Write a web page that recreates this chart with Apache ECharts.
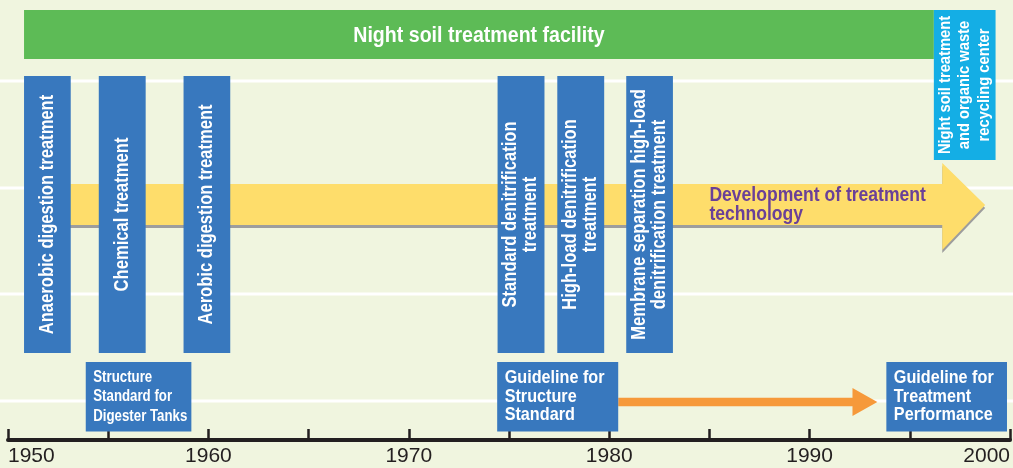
<!DOCTYPE html>
<html>
<head>
<meta charset="utf-8">
<script src="https://cdn.jsdelivr.net/npm/echarts@6/dist/echarts.min.js"></script>
<style>
html,body{margin:0;padding:0;background:#f0f5df;}
#chart{width:1013px;height:468px;}
</style>
</head>
<body>
<div id="chart"></div>
<script>
// ---- data (years on x, abstract height units on y) ----
const axisMin = 1950;
const axisMax = 2000;
const tickStep = 5;

const gridLineLevels = [3.9, 14.6, 25.2, 35.9];

const facilityLabel = ['Night soil treatment facility'];
const facilityStart = [1950.8];
const facilityEnd = [1996.2];
const facilityLow = [38.1];
const facilityHigh = [43.0];

const centerLabel = ['Night soil treatment\nand organic waste\nrecycling center'];
const centerStart = [1996.2];
const centerEnd = [1999.28];
const centerLow = [28.0];
const centerHigh = [43.0];

const techLabels = [
  'Anaerobic digestion treatment',
  'Chemical treatment',
  'Aerobic digestion treatment',
  'Standard denitrification\ntreatment',
  'High-load denitrification\ntreatment',
  'Membrane separation high-load\ndenitrification treatment'
];
const techStart = [1950.8, 1954.53, 1958.76, 1974.43, 1977.41, 1980.85];
const techEnd = [1953.13, 1956.87, 1961.09, 1976.77, 1979.75, 1983.18];
const techLow = [8.7, 8.7, 8.7, 8.7, 8.7, 8.7];
const techHigh = [36.4, 36.4, 36.4, 36.4, 36.4, 36.4];

const stdLabels = [
  'Structure\nStandard for\nDigester Tanks',
  'Guideline for\nStructure\nStandard',
  'Guideline for\nTreatment\nPerformance'
];
const stdStart = [1953.88, 1974.41, 1993.83];
const stdEnd = [1959.15, 1980.45, 1999.85];
const stdLow = [0.85, 0.85, 0.85];
const stdHigh = [7.8, 7.8, 7.8];

// yellow development arrow: [start, headStart, tip, shaftLow, shaftHigh, headLow, headHigh, mid]
const devArrow = [1952, 1996.62, 1998.76, 21.5, 25.6, 19.0, 27.7, 23.5];
const devLabel = ['Development of treatment\ntechnology'];
const devLabelAt = [1985, 23.5];

// orange arrow: [start, headStart, tip, mid, shaftHalf, headHalf]
const stdArrow = [1980.45, 1992.14, 1993.38, 3.8, 0.42, 1.4];

// ---- styles ----
const C = {
  bg: '#f0f5df', green: '#5dbb56', blue: '#3878be', cyan: '#14aee5',
  yellow: '#fedd6b', orange: '#f6993a', purple: '#6a4098', axis: '#231f20'
};
const FONT = '"Liberation Sans", Arial, sans-serif';
const stdTextStyle = [
  { fontSize: 17, scaleX: 0.78, lineHeight: 19.5 },
  { fontSize: 18.5, scaleX: 0.875, lineHeight: 18.5 },
  { fontSize: 18.5, scaleX: 0.875, lineHeight: 18.5 }
];

function rectOf(api, x0, x1, y0, y1) {
  const a = api.coord([x0, y1]);
  const b = api.coord([x1, y0]);
  return { x: a[0], y: a[1], width: b[0] - a[0], height: b[1] - a[1] };
}

const chart = echarts.init(document.getElementById('chart'), null, { renderer: 'canvas' });

const option = {
  backgroundColor: C.bg,
  animation: false,
  grid: { left: 8, width: 1006, top: 0, bottom: 28 },
  xAxis: {
    type: 'value', min: axisMin, max: axisMax, interval: tickStep,
    axisLine: { show: true, lineStyle: { color: C.axis, width: 4 } },
    axisTick: { show: true, inside: true, length: 11, lineStyle: { color: C.axis, width: 2.5 } },
    axisLabel: {
      show: true, color: C.axis, fontSize: 21, fontFamily: FONT, margin: 6,
      alignMinLabel: 'left', alignMaxLabel: 'right',
      formatter: function (v) { return (v % 10 === 0) ? String(v) : ''; }
    },
    splitLine: { show: false }
  },
  yAxis: { type: 'value', min: 0, max: 44, show: false, splitLine: { show: false } },
  series: [
    { // white guide lines
      type: 'custom', z: 1, clip: false,
      data: gridLineLevels.map(v => [axisMin, v]),
      renderItem: function (params, api) {
        const y = api.coord([axisMin, api.value(1)])[1];
        return { type: 'line', shape: { x1: 0, y1: y, x2: api.getWidth(), y2: y },
          style: { stroke: '#ffffff', lineWidth: 3 } };
      }
    },
    { // yellow arrow
      type: 'custom', z: 2, clip: false,
      data: [devArrow],
      renderItem: function (params, api) {
        const v = i => api.value(i);
        const pts = [
          [v(0), v(3)], [v(1), v(3)], [v(1), v(5)], [v(2), v(7)],
          [v(1), v(6)], [v(1), v(4)], [v(0), v(4)]
        ].map(p => api.coord(p));
        return { type: 'polygon', shape: { points: pts },
          style: { fill: C.yellow, shadowColor: '#9d9d9d', shadowBlur: 0, shadowOffsetX: 0, shadowOffsetY: 3 } };
      }
    },
    { // orange arrow
      type: 'custom', z: 2, clip: false,
      data: [stdArrow],
      renderItem: function (params, api) {
        const v = i => api.value(i);
        const m = v(3), s = v(4), h = v(5);
        const pts = [
          [v(0), m - s], [v(1), m - s], [v(1), m - h], [v(2), m],
          [v(1), m + h], [v(1), m + s], [v(0), m + s]
        ].map(p => api.coord(p));
        return { type: 'polygon', shape: { points: pts }, style: { fill: C.orange } };
      }
    },
    { // development label
      type: 'custom', z: 3, clip: false,
      data: [devLabelAt],
      renderItem: function (params, api) {
        const p = api.coord([api.value(0), api.value(1)]);
        return { type: 'text', x: p[0], y: p[1], scaleX: 0.9,
          style: { text: devLabel[0], fill: C.purple, fontSize: 19.5, fontWeight: 'bold',
            fontFamily: FONT, align: 'left', verticalAlign: 'middle', lineHeight: 19 } };
      }
    },
    { // green facility band
      type: 'custom', z: 3, clip: false,
      data: facilityStart.map((s, i) => [s, facilityEnd[i], facilityLow[i], facilityHigh[i]]),
      renderItem: function (params, api) {
        const r = rectOf(api, api.value(0), api.value(1), api.value(2), api.value(3));
        return { type: 'group', children: [
          { type: 'rect', shape: r, style: { fill: C.green } },
          { type: 'text', x: r.x + r.width / 2, y: r.y + r.height / 2 + 1, scaleX: 0.89,
            style: { text: facilityLabel[params.dataIndex], fill: '#fff', fontSize: 22, fontWeight: 'bold',
              fontFamily: FONT, align: 'center', verticalAlign: 'middle' } }
        ] };
      }
    },
    { // cyan recycling center
      type: 'custom', z: 3, clip: false,
      data: centerStart.map((s, i) => [s, centerEnd[i], centerLow[i], centerHigh[i]]),
      renderItem: function (params, api) {
        const r = rectOf(api, api.value(0), api.value(1), api.value(2), api.value(3));
        return { type: 'group', children: [
          { type: 'rect', shape: r, style: { fill: C.cyan } },
          { type: 'text', x: r.x + r.width / 2, y: r.y + r.height / 2, rotation: Math.PI / 2, scaleX: 0.92,
            style: { text: centerLabel[params.dataIndex], fill: '#fff', fontSize: 16, fontWeight: 'bold',
              fontFamily: FONT, align: 'center', verticalAlign: 'middle', lineHeight: 19.5 } }
        ] };
      }
    },
    { // technology bars
      type: 'custom', z: 4, clip: false,
      data: techStart.map((s, i) => [s, techEnd[i], techLow[i], techHigh[i]]),
      renderItem: function (params, api) {
        const r = rectOf(api, api.value(0), api.value(1), api.value(2), api.value(3));
        return { type: 'group', children: [
          { type: 'rect', shape: r, style: { fill: C.blue } },
          { type: 'text', x: r.x + r.width / 2, y: r.y + r.height / 2, rotation: Math.PI / 2, scaleX: 0.85,
            style: { text: techLabels[params.dataIndex], fill: '#fff', fontSize: 19.5, fontWeight: 'bold',
              fontFamily: FONT, align: 'center', verticalAlign: 'middle', lineHeight: 20 } }
        ] };
      }
    },
    { // standards boxes
      type: 'custom', z: 4, clip: false,
      data: stdStart.map((s, i) => [s, stdEnd[i], stdLow[i], stdHigh[i]]),
      renderItem: function (params, api) {
        const r = rectOf(api, api.value(0), api.value(1), api.value(2), api.value(3));
        const ts = stdTextStyle[params.dataIndex];
        return { type: 'group', children: [
          { type: 'rect', shape: r, style: { fill: C.blue } },
          { type: 'text', x: r.x + 7.5, y: r.y + r.height / 2, scaleX: ts.scaleX,
            style: { text: stdLabels[params.dataIndex], fill: '#fff', fontSize: ts.fontSize, fontWeight: 'bold',
              fontFamily: FONT, align: 'left', verticalAlign: 'middle', lineHeight: ts.lineHeight } }
        ] };
      }
    }
  ]
};
chart.setOption(option);
</script>
</body>
</html>
